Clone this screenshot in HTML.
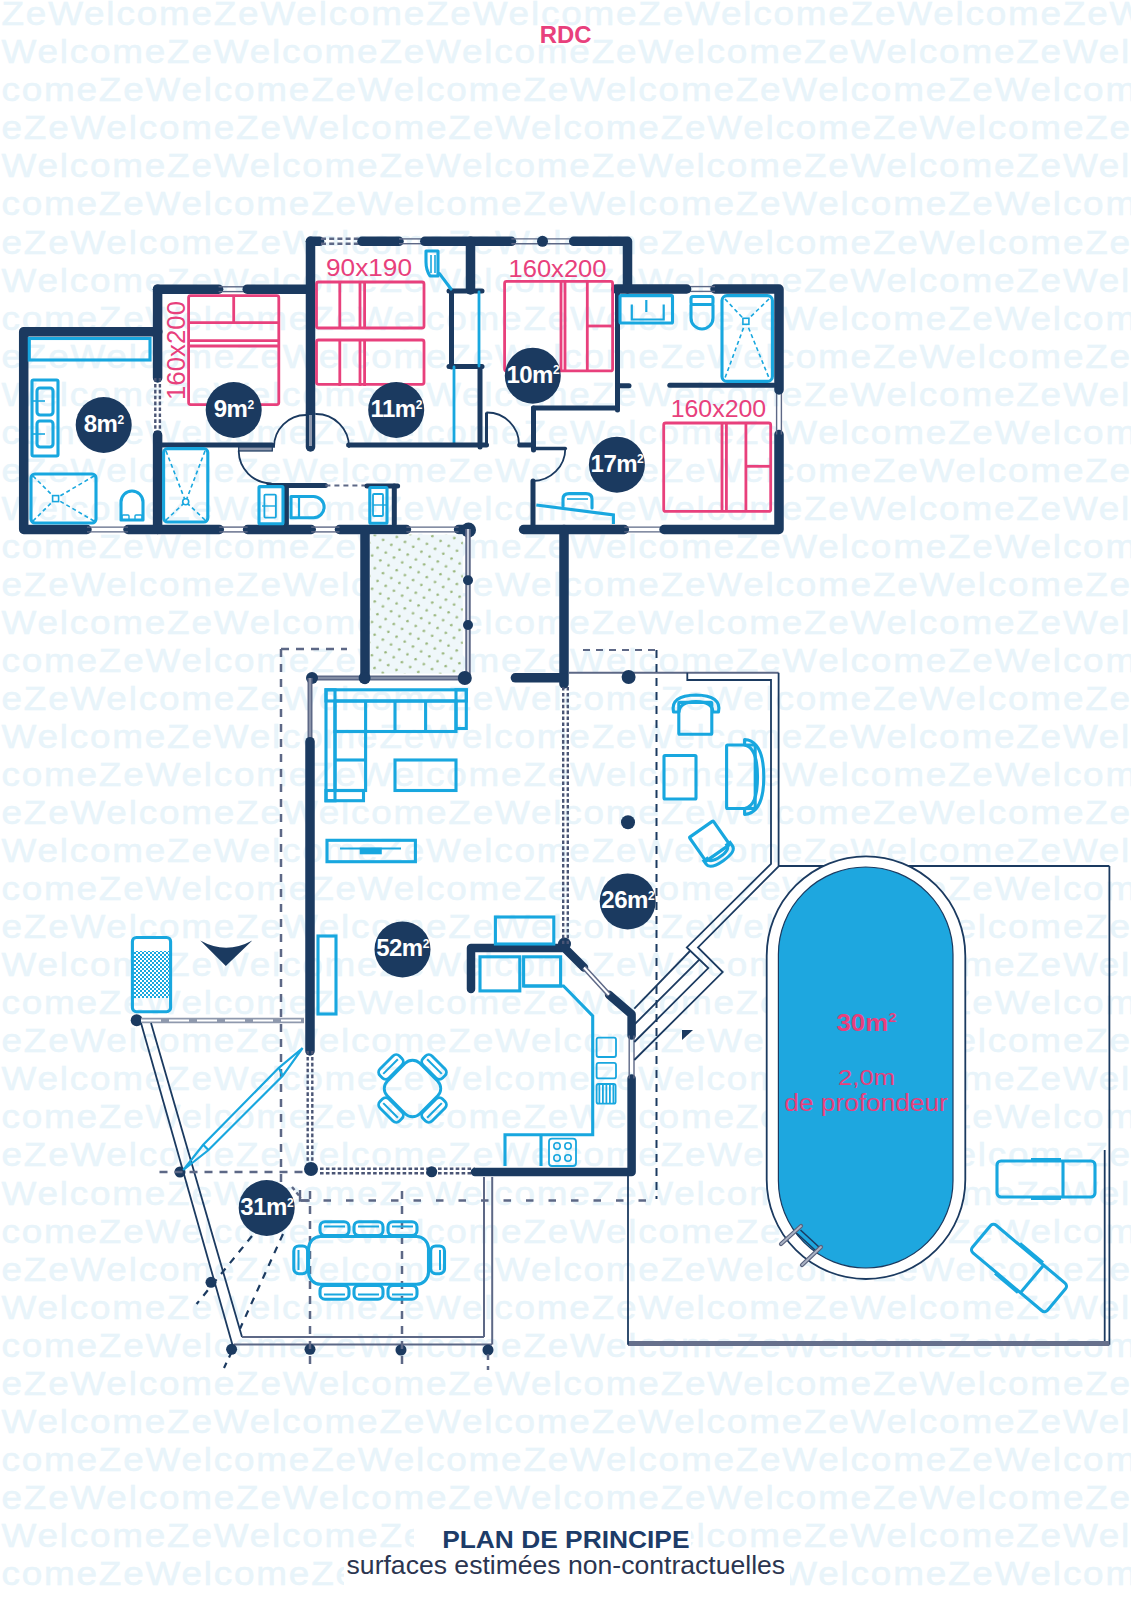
<!DOCTYPE html>
<html><head><meta charset="utf-8"><style>
html,body{margin:0;padding:0;background:#fff;}
svg{display:block;}
.wm text{font-family:"Liberation Sans",sans-serif;font-weight:normal;stroke:#e8f4fa;stroke-width:0.5px;font-size:33.5px;letter-spacing:1.66px;fill:#e8f4fa;}
.bd{font-family:"Liberation Sans",sans-serif;font-weight:bold;fill:#fff;letter-spacing:-0.5px;}
.bed{font-family:"Liberation Sans",sans-serif;fill:#e8407c;}
.pool{font-family:"Liberation Sans",sans-serif;font-weight:bold;fill:#e8407c;}
.poolr{font-family:"Liberation Sans",sans-serif;fill:#e8407c;}
.rdc{font-family:"Liberation Sans",sans-serif;font-weight:bold;font-size:23px;fill:#e8407c;}
.t1{font-family:"Liberation Sans",sans-serif;font-weight:bold;font-size:24.5px;fill:#1d3c68;}
.t2{font-family:"Liberation Sans",sans-serif;font-size:25px;fill:#2b3550;}
</style></head><body>
<svg width="1131" height="1600" viewBox="0 0 1131 1600">
<defs>
<pattern id="dots" width="14" height="13" patternUnits="userSpaceOnUse" patternTransform="rotate(-12)">
<rect x="-1" y="-1" width="16" height="15" fill="#eff7fa"/>
<circle cx="3.5" cy="3.25" r="1.3" fill="#98b57a"/><circle cx="10.5" cy="9.75" r="1.3" fill="#98b57a"/>
</pattern>
<pattern id="chk" width="4" height="4" patternUnits="userSpaceOnUse">
<rect width="4" height="4" fill="#18a7df"/><rect width="2" height="2" fill="#fff"/><rect x="2" y="2" width="2" height="2" fill="#fff"/>
</pattern>
<pattern id="hatch" width="3.5" height="4" patternUnits="userSpaceOnUse">
<rect width="1.8" height="4" fill="#18a7df"/>
</pattern>
</defs>
<g class="wm" transform="scale(1.1,1)">
<text x="1.36" y="25.30">ZeWelcomeZeWelcomeZeWelcomeZeWelcomeZeWelcomeZeW</text>
<text x="1.36" y="63.34">WelcomeZeWelcomeZeWelcomeZeWelcomeZeWelcomeZeWel</text>
<text x="1.36" y="101.38">comeZeWelcomeZeWelcomeZeWelcomeZeWelcomeZeWelcom</text>
<text x="1.36" y="139.42">eZeWelcomeZeWelcomeZeWelcomeZeWelcomeZeWelcomeZe</text>
<text x="1.36" y="177.46">WelcomeZeWelcomeZeWelcomeZeWelcomeZeWelcomeZeWel</text>
<text x="1.36" y="215.50">comeZeWelcomeZeWelcomeZeWelcomeZeWelcomeZeWelcom</text>
<text x="1.36" y="253.54">eZeWelcomeZeWelcomeZeWelcomeZeWelcomeZeWelcomeZe</text>
<text x="1.36" y="291.58">WelcomeZeWelcomeZeWelcomeZeWelcomeZeWelcomeZeWel</text>
<text x="1.36" y="329.62">comeZeWelcomeZeWelcomeZeWelcomeZeWelcomeZeWelcom</text>
<text x="1.36" y="367.66">eZeWelcomeZeWelcomeZeWelcomeZeWelcomeZeWelcomeZe</text>
<text x="1.36" y="405.70">WelcomeZeWelcomeZeWelcomeZeWelcomeZeWelcomeZeWel</text>
<text x="1.36" y="443.74">comeZeWelcomeZeWelcomeZeWelcomeZeWelcomeZeWelcom</text>
<text x="1.36" y="481.78">eZeWelcomeZeWelcomeZeWelcomeZeWelcomeZeWelcomeZe</text>
<text x="1.36" y="519.82">WelcomeZeWelcomeZeWelcomeZeWelcomeZeWelcomeZeWel</text>
<text x="1.36" y="557.86">comeZeWelcomeZeWelcomeZeWelcomeZeWelcomeZeWelcom</text>
<text x="1.36" y="595.90">eZeWelcomeZeWelcomeZeWelcomeZeWelcomeZeWelcomeZe</text>
<text x="1.36" y="633.94">WelcomeZeWelcomeZeWelcomeZeWelcomeZeWelcomeZeWel</text>
<text x="1.36" y="671.98">comeZeWelcomeZeWelcomeZeWelcomeZeWelcomeZeWelcom</text>
<text x="1.36" y="710.02">eZeWelcomeZeWelcomeZeWelcomeZeWelcomeZeWelcomeZe</text>
<text x="1.36" y="748.06">WelcomeZeWelcomeZeWelcomeZeWelcomeZeWelcomeZeWel</text>
<text x="1.36" y="786.10">comeZeWelcomeZeWelcomeZeWelcomeZeWelcomeZeWelcom</text>
<text x="1.36" y="824.14">eZeWelcomeZeWelcomeZeWelcomeZeWelcomeZeWelcomeZe</text>
<text x="1.36" y="862.18">WelcomeZeWelcomeZeWelcomeZeWelcomeZeWelcomeZeWel</text>
<text x="1.36" y="900.22">comeZeWelcomeZeWelcomeZeWelcomeZeWelcomeZeWelcom</text>
<text x="1.36" y="938.26">eZeWelcomeZeWelcomeZeWelcomeZeWelcomeZeWelcomeZe</text>
<text x="1.36" y="976.30">WelcomeZeWelcomeZeWelcomeZeWelcomeZeWelcomeZeWel</text>
<text x="1.36" y="1014.34">comeZeWelcomeZeWelcomeZeWelcomeZeWelcomeZeWelcom</text>
<text x="1.36" y="1052.38">eZeWelcomeZeWelcomeZeWelcomeZeWelcomeZeWelcomeZe</text>
<text x="1.36" y="1090.42">WelcomeZeWelcomeZeWelcomeZeWelcomeZeWelcomeZeWel</text>
<text x="1.36" y="1128.46">comeZeWelcomeZeWelcomeZeWelcomeZeWelcomeZeWelcom</text>
<text x="1.36" y="1166.50">eZeWelcomeZeWelcomeZeWelcomeZeWelcomeZeWelcomeZe</text>
<text x="1.36" y="1204.54">WelcomeZeWelcomeZeWelcomeZeWelcomeZeWelcomeZeWel</text>
<text x="1.36" y="1242.58">comeZeWelcomeZeWelcomeZeWelcomeZeWelcomeZeWelcom</text>
<text x="1.36" y="1280.62">eZeWelcomeZeWelcomeZeWelcomeZeWelcomeZeWelcomeZe</text>
<text x="1.36" y="1318.66">WelcomeZeWelcomeZeWelcomeZeWelcomeZeWelcomeZeWel</text>
<text x="1.36" y="1356.70">comeZeWelcomeZeWelcomeZeWelcomeZeWelcomeZeWelcom</text>
<text x="1.36" y="1394.74">eZeWelcomeZeWelcomeZeWelcomeZeWelcomeZeWelcomeZe</text>
<text x="1.36" y="1432.78">WelcomeZeWelcomeZeWelcomeZeWelcomeZeWelcomeZeWel</text>
<text x="1.36" y="1470.82">comeZeWelcomeZeWelcomeZeWelcomeZeWelcomeZeWelcom</text>
<text x="1.36" y="1508.86">eZeWelcomeZeWelcomeZeWelcomeZeWelcomeZeWelcomeZe</text>
<text x="1.36" y="1546.90">WelcomeZeWelcomeZeWelcomeZeWelcomeZeWelcomeZeWel</text>
<text x="1.36" y="1584.94">comeZeWelcomeZeWelcomeZeWelcomeZeWelcomeZeWelcom</text>
</g>
<path d="M157.8,331.7 H23.7 V529.5 H87" fill="none" stroke="#1b3a60" stroke-width="9.5" stroke-linecap="round" stroke-linejoin="round" />
<line x1="128" y1="529.5" x2="219.3" y2="529.5" stroke="#1b3a60" stroke-width="9.5" stroke-linecap="round" />
<line x1="247.6" y1="529.5" x2="311.2" y2="529.5" stroke="#1b3a60" stroke-width="9.5" stroke-linecap="round" />
<line x1="339.5" y1="529.5" x2="406.4" y2="529.5" stroke="#1b3a60" stroke-width="9.5" stroke-linecap="round" />
<line x1="458.6" y1="529.5" x2="468.5" y2="529.5" stroke="#1b3a60" stroke-width="9.5" stroke-linecap="round" />
<circle cx="468.5" cy="530" r="7.5" fill="#1b3a60"/>
<line x1="87" y1="527.1" x2="128" y2="527.1" stroke="#5d6886" stroke-width="1.4"/>
<line x1="87" y1="531.9" x2="128" y2="531.9" stroke="#5d6886" stroke-width="1.4"/>
<line x1="219.3" y1="527.1" x2="247.6" y2="527.1" stroke="#5d6886" stroke-width="1.4"/>
<line x1="219.3" y1="531.9" x2="247.6" y2="531.9" stroke="#5d6886" stroke-width="1.4"/>
<line x1="311.2" y1="527.1" x2="339.5" y2="527.1" stroke="#5d6886" stroke-width="1.4"/>
<line x1="311.2" y1="531.9" x2="339.5" y2="531.9" stroke="#5d6886" stroke-width="1.4"/>
<line x1="406.4" y1="527.1" x2="458.6" y2="527.1" stroke="#5d6886" stroke-width="1.4"/>
<line x1="406.4" y1="531.9" x2="458.6" y2="531.9" stroke="#5d6886" stroke-width="1.4"/>
<line x1="523.6" y1="529.5" x2="624.3" y2="529.5" stroke="#1b3a60" stroke-width="9.5" stroke-linecap="round" />
<line x1="624.3" y1="527.1" x2="664" y2="527.1" stroke="#5d6886" stroke-width="1.4"/>
<line x1="624.3" y1="531.9" x2="664" y2="531.9" stroke="#5d6886" stroke-width="1.4"/>
<path d="M664,529.5 H779 V434.5" fill="none" stroke="#1b3a60" stroke-width="9.5" stroke-linecap="round" stroke-linejoin="round" />
<line x1="776.6" y1="390" x2="776.6" y2="434.5" stroke="#5d6886" stroke-width="1.4"/>
<line x1="781.4" y1="390" x2="781.4" y2="434.5" stroke="#5d6886" stroke-width="1.4"/>
<path d="M779,390 V289 H715" fill="none" stroke="#1b3a60" stroke-width="9.5" stroke-linecap="round" stroke-linejoin="round" />
<line x1="686.6" y1="286.6" x2="715" y2="286.6" stroke="#5d6886" stroke-width="1.4"/>
<line x1="686.6" y1="291.4" x2="715" y2="291.4" stroke="#5d6886" stroke-width="1.4"/>
<line x1="616" y1="289" x2="686.6" y2="289" stroke="#1b3a60" stroke-width="9.5" stroke-linecap="round" />
<line x1="157.6" y1="289.2" x2="157.6" y2="378" stroke="#1b3a60" stroke-width="9.5" stroke-linecap="round" />
<line x1="155.29999999999998" y1="378" x2="155.29999999999998" y2="435" stroke="#4a5575" stroke-width="2.4" stroke-dasharray="3.6 2.3"/>
<line x1="159.9" y1="378" x2="159.9" y2="435" stroke="#4a5575" stroke-width="2.4" stroke-dasharray="3.6 2.3"/>
<line x1="157.6" y1="435" x2="157.6" y2="529.5" stroke="#1b3a60" stroke-width="9.5" stroke-linecap="round" />
<path d="M157.6,289.2 H218.6" fill="none" stroke="#1b3a60" stroke-width="9.5" stroke-linecap="round" stroke-linejoin="round" />
<line x1="218.6" y1="286.8" x2="247.2" y2="286.8" stroke="#5d6886" stroke-width="1.4"/>
<line x1="218.6" y1="291.59999999999997" x2="247.2" y2="291.59999999999997" stroke="#5d6886" stroke-width="1.4"/>
<line x1="247.2" y1="289.2" x2="310.5" y2="289.2" stroke="#1b3a60" stroke-width="9.5" stroke-linecap="round" />
<line x1="310.5" y1="241.3" x2="319.5" y2="241.3" stroke="#1b3a60" stroke-width="9.5" stroke-linecap="round" />
<line x1="321" y1="238.8" x2="361" y2="238.8" stroke="#5d6886" stroke-width="2.6" stroke-dasharray="5 3.2"/>
<line x1="321" y1="243.8" x2="361" y2="243.8" stroke="#5d6886" stroke-width="2.6" stroke-dasharray="5 3.2"/>
<line x1="362" y1="241.3" x2="399" y2="241.3" stroke="#1b3a60" stroke-width="9.5" stroke-linecap="round" />
<line x1="399" y1="238.9" x2="424.8" y2="238.9" stroke="#5d6886" stroke-width="1.4"/>
<line x1="399" y1="243.70000000000002" x2="424.8" y2="243.70000000000002" stroke="#5d6886" stroke-width="1.4"/>
<line x1="424.8" y1="241.3" x2="511.4" y2="241.3" stroke="#1b3a60" stroke-width="9.5" stroke-linecap="round" />
<line x1="511.4" y1="238.9" x2="573.7" y2="238.9" stroke="#5d6886" stroke-width="1.4"/>
<line x1="511.4" y1="243.70000000000002" x2="573.7" y2="243.70000000000002" stroke="#5d6886" stroke-width="1.4"/>
<circle cx="542.5" cy="241.3" r="5.5" fill="#1b3a60"/>
<path d="M573.7,241.3 H627.5 V289" fill="none" stroke="#1b3a60" stroke-width="9.5" stroke-linecap="round" stroke-linejoin="round" />
<line x1="310.5" y1="241.3" x2="310.5" y2="413" stroke="#1b3a60" stroke-width="9.5" stroke-linecap="round" />
<line x1="310.5" y1="413" x2="310.5" y2="447" stroke="#1b3a60" stroke-width="9.5" stroke-linecap="round" />
<line x1="310.5" y1="415" x2="310.5" y2="446" stroke="#8e98ad" stroke-width="3" stroke-linecap="butt" />
<line x1="470.5" y1="241.3" x2="470.5" y2="290" stroke="#1b3a60" stroke-width="9.5" stroke-linecap="round" />
<line x1="449" y1="291" x2="482" y2="291" stroke="#1b3a60" stroke-width="5" stroke-linecap="round" />
<line x1="451.5" y1="291" x2="451.5" y2="367" stroke="#1b3a60" stroke-width="5" stroke-linecap="round" />
<line x1="480" y1="367" x2="480" y2="447" stroke="#1b3a60" stroke-width="5" stroke-linecap="round" />
<line x1="449" y1="366.5" x2="482" y2="366.5" stroke="#1b3a60" stroke-width="5" stroke-linecap="round" />
<line x1="454" y1="367" x2="454" y2="443" stroke="#18a7df" stroke-width="2.8" stroke-linecap="round" />
<line x1="479" y1="292" x2="479" y2="366" stroke="#18a7df" stroke-width="2.8" stroke-linecap="round" />
<line x1="486.5" y1="412.5" x2="486.5" y2="446" stroke="#1b3a60" stroke-width="3" stroke-linecap="butt" />
<line x1="157.6" y1="445" x2="272" y2="445" stroke="#1b3a60" stroke-width="5" stroke-linecap="round" />
<rect x="238.7" y="447" width="33.6" height="4" rx="0" fill="#8e98ad" stroke="#1b3a60" stroke-width="1.2" />
<path d="M238.7,451 A33,33 0 0 0 271,483.5" fill="none" stroke="#1b3a60" stroke-width="1.8" stroke-linecap="round" stroke-linejoin="round" />
<path d="M274,447 A32,32 0 0 1 306,415" fill="none" stroke="#1b3a60" stroke-width="1.8" stroke-linecap="round" stroke-linejoin="round" />
<path d="M316,414 A33,33 0 0 1 349,447" fill="none" stroke="#1b3a60" stroke-width="1.8" stroke-linecap="round" stroke-linejoin="round" />
<line x1="348.6" y1="445" x2="486.5" y2="445" stroke="#1b3a60" stroke-width="5" stroke-linecap="round" />
<path d="M487,412.5 A32,32 0 0 1 519,444.5" fill="none" stroke="#1b3a60" stroke-width="1.8" stroke-linecap="round" stroke-linejoin="round" />
<line x1="519.7" y1="445" x2="533.5" y2="445" stroke="#1b3a60" stroke-width="5" stroke-linecap="round" />
<line x1="533.5" y1="408" x2="533.5" y2="450" stroke="#1b3a60" stroke-width="5" stroke-linecap="round" />
<line x1="533.5" y1="408" x2="617.5" y2="408" stroke="#1b3a60" stroke-width="5" stroke-linecap="round" />
<line x1="617.5" y1="289" x2="617.5" y2="410" stroke="#1b3a60" stroke-width="5" stroke-linecap="round" />
<line x1="617.5" y1="385.8" x2="629" y2="385.8" stroke="#1b3a60" stroke-width="5" stroke-linecap="round" />
<line x1="669.8" y1="385.3" x2="774" y2="385.3" stroke="#1b3a60" stroke-width="5" stroke-linecap="round" />
<line x1="532.7" y1="448.4" x2="565.3" y2="448.4" stroke="#1b3a60" stroke-width="3.5" stroke-linecap="round" />
<path d="M565.3,448.4 A32.6,32.6 0 0 1 532.7,481" fill="none" stroke="#1b3a60" stroke-width="1.8" stroke-linecap="round" stroke-linejoin="round" />
<line x1="533" y1="481" x2="533" y2="529.5" stroke="#1b3a60" stroke-width="5" stroke-linecap="round" />
<line x1="268.8" y1="485.5" x2="325.4" y2="485.5" stroke="#1b3a60" stroke-width="5" stroke-linecap="round" />
<line x1="325.4" y1="485.5" x2="367" y2="485.5" stroke="#5d6886" stroke-width="2" stroke-dasharray="5 4"/>
<line x1="367" y1="486" x2="397.6" y2="486" stroke="#1b3a60" stroke-width="5" stroke-linecap="round" />
<line x1="286.4" y1="486" x2="286.4" y2="524" stroke="#1b3a60" stroke-width="5" stroke-linecap="round" />
<line x1="394.3" y1="486" x2="394.3" y2="524" stroke="#1b3a60" stroke-width="5" stroke-linecap="round" />
<line x1="564" y1="529.5" x2="564" y2="684" stroke="#1b3a60" stroke-width="9.5" stroke-linecap="round" />
<line x1="515.4" y1="677.8" x2="562" y2="677.8" stroke="#1b3a60" stroke-width="9.5" stroke-linecap="round" />
<rect x="29.3" y="338.5" width="120.7" height="21.5" rx="0" fill="none" stroke="#18a7df" stroke-width="3.1" />
<rect x="32" y="380" width="26" height="76" rx="1.5" fill="none" stroke="#18a7df" stroke-width="3.1" />
<rect x="37" y="388" width="16" height="27" rx="3" fill="none" stroke="#18a7df" stroke-width="3.1" />
<rect x="37" y="421" width="16" height="26" rx="3" fill="none" stroke="#18a7df" stroke-width="3.1" />
<line x1="33" y1="401" x2="45" y2="401" stroke="#18a7df" stroke-width="1.6"/>
<line x1="33" y1="434" x2="45" y2="434" stroke="#18a7df" stroke-width="1.6"/>
<rect x="31" y="474" width="65" height="49" rx="4" fill="none" stroke="#18a7df" stroke-width="3.1" />
<line x1="33" y1="476" x2="55.6" y2="498.6" stroke="#18a7df" stroke-width="1.6" stroke-dasharray="4 3"/>
<line x1="94" y1="476" x2="55.6" y2="498.6" stroke="#18a7df" stroke-width="1.6" stroke-dasharray="4 3"/>
<line x1="33" y1="521" x2="55.6" y2="498.6" stroke="#18a7df" stroke-width="1.6" stroke-dasharray="4 3"/>
<line x1="94" y1="521" x2="55.6" y2="498.6" stroke="#18a7df" stroke-width="1.6" stroke-dasharray="4 3"/>
<rect x="52.6" y="495.6" width="6" height="6" rx="0" fill="#fff" stroke="#18a7df" stroke-width="1.6" />
<path d="M121,520 V502 A11,11 0 0 1 143,502 V520 Z" fill="#fff" stroke="#18a7df" stroke-width="3.1" stroke-linecap="round" stroke-linejoin="round" />
<rect x="122" y="515" width="7" height="5" rx="1" fill="none" stroke="#18a7df" stroke-width="1.4" />
<rect x="135" y="515" width="7" height="5" rx="1" fill="none" stroke="#18a7df" stroke-width="1.4" />
<rect x="163.6" y="448.6" width="44.2" height="73.4" rx="4" fill="none" stroke="#18a7df" stroke-width="3.1" />
<line x1="166" y1="451" x2="185.7" y2="501.7" stroke="#18a7df" stroke-width="1.6" stroke-dasharray="4 3"/>
<line x1="205" y1="451" x2="185.7" y2="501.7" stroke="#18a7df" stroke-width="1.6" stroke-dasharray="4 3"/>
<line x1="166" y1="520" x2="185.7" y2="501.7" stroke="#18a7df" stroke-width="1.6" stroke-dasharray="4 3"/>
<line x1="205" y1="520" x2="185.7" y2="501.7" stroke="#18a7df" stroke-width="1.6" stroke-dasharray="4 3"/>
<circle cx="185.7" cy="501.7" r="3" fill="#fff" stroke="#18a7df" stroke-width="1.6"/>
<rect x="259" y="486.6" width="24" height="37.2" rx="1" fill="none" stroke="#18a7df" stroke-width="3.1" />
<rect x="264.4" y="494.6" width="11.5" height="23" rx="1" fill="none" stroke="#18a7df" stroke-width="1.8" />
<line x1="262" y1="506" x2="276" y2="506" stroke="#18a7df" stroke-width="1.4"/>
<path d="M291,496.5 H313.5 A10.6,10.6 0 0 1 313.5,517.7 H291 Z" fill="none" stroke="#18a7df" stroke-width="3.1" stroke-linecap="round" stroke-linejoin="round" />
<line x1="299" y1="496.5" x2="299" y2="517.7" stroke="#18a7df" stroke-width="2.2"/>
<rect x="369.8" y="487.5" width="17.2" height="35.8" rx="1" fill="none" stroke="#18a7df" stroke-width="3.1" />
<rect x="373" y="494" width="10" height="22" rx="1" fill="none" stroke="#18a7df" stroke-width="1.8" />
<line x1="373" y1="505" x2="387" y2="505" stroke="#18a7df" stroke-width="1.4"/>
<path d="M426,251 H438 V276 H430 Q426,270 426,262 Z" fill="none" stroke="#18a7df" stroke-width="3.1" stroke-linecap="round" stroke-linejoin="round" />
<line x1="431" y1="255" x2="431" y2="273" stroke="#18a7df" stroke-width="1.6"/>
<line x1="435" y1="255" x2="435" y2="273" stroke="#18a7df" stroke-width="1.6"/>
<path d="M439.5,273.6 L451,289" fill="none" stroke="#18a7df" stroke-width="3.1" stroke-linecap="round" stroke-linejoin="round" />
<rect x="620" y="295.6" width="52.5" height="27.4" rx="1" fill="none" stroke="#18a7df" stroke-width="3.1" />
<path d="M631.8,304.5 V319.5 H663.7 V304.5" fill="none" stroke="#18a7df" stroke-width="2.2" stroke-linecap="butt" stroke-linejoin="miter" />
<line x1="646.3" y1="300" x2="646.3" y2="312" stroke="#18a7df" stroke-width="2.2"/>
<rect x="691" y="296.5" width="22" height="8" rx="2" fill="none" stroke="#18a7df" stroke-width="3.1" />
<path d="M691,305 V318 A11,11 0 0 0 713,318 V305" fill="none" stroke="#18a7df" stroke-width="3.1" stroke-linecap="round" stroke-linejoin="round" />
<rect x="722" y="295.6" width="50.4" height="85.8" rx="5" fill="none" stroke="#18a7df" stroke-width="3.1" />
<line x1="725" y1="299" x2="745.9" y2="321.3" stroke="#18a7df" stroke-width="1.6" stroke-dasharray="4 3"/>
<line x1="769" y1="299" x2="745.9" y2="321.3" stroke="#18a7df" stroke-width="1.6" stroke-dasharray="4 3"/>
<line x1="745.9" y1="321.3" x2="725" y2="378" stroke="#18a7df" stroke-width="1.6" stroke-dasharray="4 3"/>
<line x1="745.9" y1="321.3" x2="769" y2="378" stroke="#18a7df" stroke-width="1.6" stroke-dasharray="4 3"/>
<rect x="742.9" y="318.3" width="6" height="6" fill="#fff" stroke="#18a7df" stroke-width="1.6"/>
<path d="M536.3,505 L613.4,514.9 V524" fill="none" stroke="#18a7df" stroke-width="3.1" stroke-linecap="butt" stroke-linejoin="miter" />
<path d="M563,506 V499 Q563,493.6 569,493.6 H586 Q592,493.6 592,499 V508" fill="none" stroke="#18a7df" stroke-width="3.1" stroke-linecap="round" stroke-linejoin="round" />
<line x1="567" y1="499" x2="588" y2="499" stroke="#18a7df" stroke-width="1.6"/>
<rect x="188.6" y="295.6" width="90.2" height="109" rx="2" fill="none" stroke="#e8407c" stroke-width="2.8" />
<line x1="188.6" y1="322.7" x2="278.8" y2="322.7" stroke="#e8407c" stroke-width="2.8"/>
<line x1="233.7" y1="295.6" x2="233.7" y2="322.7" stroke="#e8407c" stroke-width="2.8"/>
<line x1="188.6" y1="340.7" x2="278.8" y2="340.7" stroke="#e8407c" stroke-width="2.8"/>
<line x1="188.6" y1="346" x2="278.8" y2="346" stroke="#e8407c" stroke-width="2.8"/>
<rect x="316.5" y="282" width="107.5" height="46" rx="2" fill="none" stroke="#e8407c" stroke-width="2.8" />
<line x1="339.8" y1="282" x2="339.8" y2="328" stroke="#e8407c" stroke-width="2.8"/>
<line x1="360" y1="282" x2="360" y2="328" stroke="#e8407c" stroke-width="2.8"/>
<line x1="364.6" y1="282" x2="364.6" y2="328" stroke="#e8407c" stroke-width="2.8"/>
<rect x="316.5" y="340" width="107.5" height="44.3" rx="2" fill="none" stroke="#e8407c" stroke-width="2.8" />
<line x1="339.8" y1="340" x2="339.8" y2="386" stroke="#e8407c" stroke-width="2.8"/>
<line x1="360" y1="340" x2="360" y2="386" stroke="#e8407c" stroke-width="2.8"/>
<line x1="364.6" y1="340" x2="364.6" y2="386" stroke="#e8407c" stroke-width="2.8"/>
<rect x="504.6" y="281.4" width="108" height="89.5" rx="2" fill="none" stroke="#e8407c" stroke-width="2.8" />
<line x1="561" y1="281.4" x2="561" y2="370.9" stroke="#e8407c" stroke-width="2.8"/>
<line x1="565" y1="281.4" x2="565" y2="370.9" stroke="#e8407c" stroke-width="2.8"/>
<line x1="587.3" y1="281.4" x2="587.3" y2="370.9" stroke="#e8407c" stroke-width="2.8"/>
<line x1="587.3" y1="326" x2="612.6" y2="326" stroke="#e8407c" stroke-width="2.8"/>
<rect x="663.7" y="423" width="107" height="88.4" rx="2" fill="none" stroke="#e8407c" stroke-width="2.8" />
<line x1="722" y1="423" x2="722" y2="511.4" stroke="#e8407c" stroke-width="2.8"/>
<line x1="726.4" y1="423" x2="726.4" y2="511.4" stroke="#e8407c" stroke-width="2.8"/>
<line x1="745.9" y1="423" x2="745.9" y2="511.4" stroke="#e8407c" stroke-width="2.8"/>
<line x1="745.9" y1="466.3" x2="770.6" y2="466.3" stroke="#e8407c" stroke-width="2.8"/>
<text x="326" y="276" class="bed" font-size="24.5" textLength="86" lengthAdjust="spacingAndGlyphs">90x190</text>
<text x="508.5" y="276.5" class="bed" font-size="24" textLength="98" lengthAdjust="spacingAndGlyphs">160x200</text>
<text x="670.7" y="416.8" class="bed" font-size="23.5" textLength="95.5" lengthAdjust="spacingAndGlyphs">160x200</text>
<text transform="translate(184.8,400) rotate(-90)" class="bed" font-size="25.5" textLength="99" lengthAdjust="spacingAndGlyphs">160x200</text>
<rect x="370.4" y="534.6" width="92.4" height="139" fill="url(#dots)"/>
<line x1="365" y1="529.7" x2="365" y2="679.5" stroke="#1b3a60" stroke-width="9.5" stroke-linecap="round" />
<line x1="468" y1="529" x2="468" y2="678" stroke="#5f6a88" stroke-width="5.5" stroke-linecap="butt" />
<line x1="468" y1="529" x2="468" y2="678" stroke="#c9cedb" stroke-width="2" stroke-linecap="butt" />
<circle cx="468" cy="580.3" r="5" fill="#1b3a60"/>
<circle cx="468" cy="625" r="5" fill="#1b3a60"/>
<line x1="309" y1="678" x2="468.7" y2="678" stroke="#5d6886" stroke-width="5" stroke-linecap="butt" />
<line x1="309" y1="678" x2="468.7" y2="678" stroke="#aab1c2" stroke-width="1.2"/>
<circle cx="312" cy="678" r="6" fill="#1b3a60"/>
<circle cx="364.6" cy="678" r="6" fill="#1b3a60"/>
<circle cx="464.8" cy="678" r="7" fill="#1b3a60"/>
<line x1="310" y1="678" x2="310" y2="741.7" stroke="#5d6886" stroke-width="5" stroke-linecap="butt" />
<line x1="310" y1="678" x2="310" y2="741.7" stroke="#aab1c2" stroke-width="1.2"/>
<line x1="310" y1="741.7" x2="310" y2="1051" stroke="#1b3a60" stroke-width="9.5" stroke-linecap="round" />
<line x1="307.7" y1="1051" x2="307.7" y2="1165" stroke="#4a5575" stroke-width="2.4" stroke-dasharray="3.6 2.3"/>
<line x1="312.3" y1="1051" x2="312.3" y2="1165" stroke="#4a5575" stroke-width="2.4" stroke-dasharray="3.6 2.3"/>
<circle cx="311" cy="1169" r="7" fill="#1b3a60"/>
<line x1="320" y1="1168.7" x2="475" y2="1168.7" stroke="#4a5575" stroke-width="2.4" stroke-dasharray="3.6 2.3"/>
<line x1="320" y1="1173.3" x2="475" y2="1173.3" stroke="#4a5575" stroke-width="2.4" stroke-dasharray="3.6 2.3"/>
<circle cx="431.7" cy="1171.8" r="5.5" fill="#1b3a60"/>
<path d="M471,989 V948 H564.5 L584,967.5" fill="none" stroke="#1b3a60" stroke-width="8.5" stroke-linecap="round" stroke-linejoin="round" />
<path d="M609,994.8 L631.6,1014.2 V1035.6" fill="none" stroke="#1b3a60" stroke-width="8.5" stroke-linecap="round" stroke-linejoin="round" />
<path d="M631.6,1078.4 V1172 H475" fill="none" stroke="#1b3a60" stroke-width="8.5" stroke-linecap="round" stroke-linejoin="round" />
<line x1="584" y1="967.5" x2="609" y2="994.8" stroke="#5d6886" stroke-width="5"/>
<line x1="584" y1="967.5" x2="609" y2="994.8" stroke="#fff" stroke-width="2"/>
<line x1="629.2" y1="1035.6" x2="629.2" y2="1078.4" stroke="#5d6886" stroke-width="1.4"/>
<line x1="634.0" y1="1035.6" x2="634.0" y2="1078.4" stroke="#5d6886" stroke-width="1.4"/>
<circle cx="564.5" cy="944" r="6.5" fill="#1b3a60"/>
<line x1="563.2" y1="687" x2="563.2" y2="944" stroke="#4a5575" stroke-width="2.4" stroke-dasharray="3.6 2.3"/>
<line x1="567.8" y1="687" x2="567.8" y2="944" stroke="#4a5575" stroke-width="2.4" stroke-dasharray="3.6 2.3"/>
<line x1="569" y1="672.8" x2="778.6" y2="672.8" stroke="#5d6886" stroke-width="2"/>
<path d="M687.3,672.8 V680 H771 V863.9 L686.8,947.4 L708.3,968.1 L634.3,1042" fill="none" stroke="#1b3a60" stroke-width="1.8" stroke-linecap="butt" stroke-linejoin="miter" />
<path d="M778.6,672.8 V866.3 L698,947.4 L722.7,972.1 L634.3,1060" fill="none" stroke="#1b3a60" stroke-width="1.8" stroke-linecap="butt" stroke-linejoin="miter" />
<line x1="778.4" y1="866" x2="1109.4" y2="866" stroke="#1b3a60" stroke-width="1.8"/>
<line x1="690.5" y1="950.5" x2="634.3" y2="1008.7" stroke="#1b3a60" stroke-width="1.8"/>
<line x1="699.6" y1="959.3" x2="634.3" y2="1024.6" stroke="#1b3a60" stroke-width="1.8"/>
<circle cx="628.6" cy="677" r="7" fill="#1b3a60"/>
<circle cx="628" cy="822.3" r="7" fill="#1b3a60"/>
<line x1="583" y1="650" x2="657" y2="650" stroke="#5d6886" stroke-width="2.2" stroke-dasharray="7 6"/>
<line x1="656.5" y1="650" x2="656.5" y2="1199" stroke="#1b3a60" stroke-width="2" stroke-dasharray="8 6"/>
<path d="M682,1040 L693,1030 L682,1030 Z" fill="#1b3a60"/>
<line x1="1109.4" y1="866" x2="1109.4" y2="1344.7" stroke="#1b3a60" stroke-width="1.8"/>
<line x1="1104.7" y1="1150" x2="1104.7" y2="1344.7" stroke="#1b3a60" stroke-width="1.8"/>
<line x1="628" y1="1343.5" x2="1109.4" y2="1343.5" stroke="#66708c" stroke-width="5" stroke-linecap="butt" />
<line x1="628" y1="1168.6" x2="628" y2="1344.7" stroke="#1b3a60" stroke-width="1.8"/>
<rect x="766.7" y="856.4" width="198.6" height="422.6" rx="99.3" fill="#fff" stroke="#1b3a60" stroke-width="1.8"/>
<rect x="778.4" y="867" width="174.6" height="401" rx="87.3" fill="#1ea7df" stroke="#1b3a60" stroke-width="1.2"/>
<text x="836.4" y="1031" class="pool" font-size="23.5" textLength="60" lengthAdjust="spacingAndGlyphs">30m<tspan font-size="13" dy="-9">2</tspan></text>
<text x="838" y="1084.8" class="poolr" font-size="21.5" textLength="57" lengthAdjust="spacingAndGlyphs">2,0m</text>
<text x="784.3" y="1110.9" class="poolr" font-size="23.5" textLength="163.5" lengthAdjust="spacingAndGlyphs">de profondeur</text>
<line x1="797" y1="1233.5" x2="816" y2="1251" stroke="#1b3a60" stroke-width="1.5"/>
<line x1="800.5" y1="1230" x2="819.5" y2="1247.5" stroke="#1b3a60" stroke-width="1.5"/>
<line x1="781" y1="1244" x2="801" y2="1226" stroke="#59627d" stroke-width="4.2" stroke-linecap="round"/>
<line x1="781" y1="1244" x2="801" y2="1226" stroke="#aab2c4" stroke-width="1.8" stroke-linecap="round"/>
<line x1="802" y1="1265" x2="821" y2="1247" stroke="#59627d" stroke-width="4.2" stroke-linecap="round"/>
<line x1="802" y1="1265" x2="821" y2="1247" stroke="#aab2c4" stroke-width="1.8" stroke-linecap="round"/>
<circle cx="136.7" cy="1020.2" r="6" fill="#1b3a60"/>
<line x1="141" y1="1020.5" x2="304" y2="1020.5" stroke="#8f99ad" stroke-width="5.5" stroke-linecap="butt" />
<line x1="141" y1="1020.5" x2="304" y2="1020.5" stroke="#fff" stroke-width="2" stroke-dasharray="20 8"/>
<line x1="141" y1="1023" x2="233.7" y2="1349.3" stroke="#1b3a60" stroke-width="1.8"/>
<line x1="151" y1="1023" x2="242" y2="1337" stroke="#1b3a60" stroke-width="1.8"/>
<line x1="242" y1="1337" x2="484" y2="1337" stroke="#5d6886" stroke-width="2.2"/>
<line x1="233.7" y1="1344.5" x2="492" y2="1344.5" stroke="#5d6886" stroke-width="2.2"/>
<line x1="484" y1="1177" x2="484" y2="1337" stroke="#5d6886" stroke-width="2"/>
<line x1="492.2" y1="1177" x2="492.2" y2="1344.5" stroke="#5d6886" stroke-width="2"/>
<circle cx="180" cy="1172" r="5.5" fill="#1b3a60"/>
<circle cx="211" cy="1282.3" r="5.5" fill="#1b3a60"/>
<circle cx="231.6" cy="1349.3" r="5.5" fill="#1b3a60"/>
<circle cx="310" cy="1349.3" r="5.5" fill="#1b3a60"/>
<circle cx="401" cy="1350" r="5.5" fill="#1b3a60"/>
<circle cx="488" cy="1350" r="5.5" fill="#1b3a60"/>
<line x1="159.5" y1="1172" x2="304" y2="1172" stroke="#5d6886" stroke-width="2.5" stroke-dasharray="8 7"/>
<line x1="281" y1="649" x2="281" y2="1182" stroke="#5d6886" stroke-width="2.5" stroke-dasharray="8 7"/>
<line x1="281" y1="649" x2="347" y2="649" stroke="#5d6886" stroke-width="2.5" stroke-dasharray="8 7"/>
<line x1="310" y1="1191" x2="310" y2="1370" stroke="#5d6886" stroke-width="2.5" stroke-dasharray="8 7"/>
<line x1="402" y1="1191" x2="402" y2="1370" stroke="#5d6886" stroke-width="2.5" stroke-dasharray="8 7"/>
<line x1="301" y1="1200.5" x2="657" y2="1200.5" stroke="#5d6886" stroke-width="2.6" stroke-dasharray="7.5 15"/>
<line x1="252" y1="1236" x2="196.6" y2="1304" stroke="#1b3a60" stroke-width="2.2" stroke-dasharray="7 7"/>
<line x1="231.6" y1="1352" x2="224" y2="1368" stroke="#1b3a60" stroke-width="2.2" stroke-dasharray="6 6"/>
<line x1="488" y1="1354" x2="488" y2="1370" stroke="#5d6886" stroke-width="2.5" stroke-dasharray="6 6"/>
<line x1="292" y1="1187" x2="301" y2="1198" stroke="#5d6886" stroke-width="2.4" stroke-dasharray="4 3"/>
<path d="M300,1190 V1200.5 H309.7" fill="none" stroke="#5d6886" stroke-width="2.4" stroke-linecap="butt" stroke-linejoin="miter" />
<line x1="283" y1="1234" x2="240" y2="1328.7" stroke="#1b3a60" stroke-width="2.2" stroke-dasharray="7 7"/>
<path d="M302.6,1048 L278.8,1067.8 L203.2,1144.8 L183.3,1170 L208.5,1150 L282.7,1075.8 Z" fill="none" stroke="#18a7df" stroke-width="2.2" stroke-linecap="round" stroke-linejoin="miter" />
<line x1="278.8" y1="1067.8" x2="282.7" y2="1075.8" stroke="#18a7df" stroke-width="2.2"/>
<line x1="203.2" y1="1144.8" x2="208.5" y2="1150" stroke="#18a7df" stroke-width="2.2"/>
<path d="M200.3,940.6 Q226,955 252.3,940.6 L225.8,966 Z" fill="#1b3a60"/>
<rect x="132.4" y="937.5" width="38.2" height="74.2" rx="4" fill="none" stroke="#18a7df" stroke-width="3.1" />
<rect x="134" y="951" width="35" height="47" fill="url(#chk)"/>
<rect x="326" y="689.8" width="140.3" height="11.2" rx="0" fill="none" stroke="#18a7df" stroke-width="3.1" />
<rect x="456" y="689.8" width="10.3" height="38.7" rx="0" fill="none" stroke="#18a7df" stroke-width="3.1" />
<rect x="335" y="701" width="121" height="30.5" rx="0" fill="none" stroke="#18a7df" stroke-width="3.1" />
<line x1="365.6" y1="701" x2="365.6" y2="731.5" stroke="#18a7df" stroke-width="3.1"/>
<line x1="395" y1="701" x2="395" y2="731.5" stroke="#18a7df" stroke-width="3.1"/>
<line x1="425.6" y1="701" x2="425.6" y2="731.5" stroke="#18a7df" stroke-width="3.1"/>
<rect x="326" y="689.8" width="9" height="111" rx="0" fill="none" stroke="#18a7df" stroke-width="3.1" />
<rect x="335" y="731.5" width="30.6" height="59" rx="0" fill="none" stroke="#18a7df" stroke-width="3.1" />
<line x1="335" y1="760" x2="365.6" y2="760" stroke="#18a7df" stroke-width="3.1"/>
<rect x="326" y="790.5" width="37.5" height="10.2" rx="0" fill="none" stroke="#18a7df" stroke-width="3.1" />
<rect x="395" y="760" width="61" height="30.5" rx="0" fill="none" stroke="#18a7df" stroke-width="3.1" />
<rect x="327" y="840.3" width="88.4" height="21.4" rx="0" fill="none" stroke="#18a7df" stroke-width="3.1" />
<line x1="340" y1="848.5" x2="401" y2="848.5" stroke="#18a7df" stroke-width="1.8"/>
<rect x="360.5" y="848.5" width="20.5" height="5" rx="0" fill="#18a7df" stroke="#18a7df" stroke-width="1.6" />
<rect x="318" y="936" width="18" height="78" rx="0" fill="none" stroke="#18a7df" stroke-width="3.1" />
<g transform="translate(412.5,1088.5) rotate(45) scale(1.15)"><rect x="-20" y="-20" width="40" height="40" rx="9" fill="none" stroke="#18a7df" stroke-width="2.5"/><rect x="-12" y="-32" width="24" height="11" rx="4" fill="none" stroke="#18a7df" stroke-width="2.5"/><line x1="-9" y1="-27" x2="9" y2="-27" stroke="#18a7df" stroke-width="1.8"/><rect x="-12" y="21" width="24" height="11" rx="4" fill="none" stroke="#18a7df" stroke-width="2.5"/><line x1="-9" y1="27" x2="9" y2="27" stroke="#18a7df" stroke-width="1.8"/><rect x="-32" y="-12" width="11" height="24" rx="4" fill="none" stroke="#18a7df" stroke-width="2.5"/><line x1="-27" y1="-9" x2="-27" y2="9" stroke="#18a7df" stroke-width="1.8"/><rect x="21" y="-12" width="11" height="24" rx="4" fill="none" stroke="#18a7df" stroke-width="2.5"/><line x1="27" y1="-9" x2="27" y2="9" stroke="#18a7df" stroke-width="1.8"/></g>
<rect x="308.6" y="1236.5" width="119.9" height="47.8" rx="12" fill="none" stroke="#18a7df" stroke-width="3.1" />
<rect x="320" y="1221.7" width="29" height="13.8" rx="5" fill="none" stroke="#18a7df" stroke-width="3.1" />
<line x1="324" y1="1226.5" x2="345" y2="1226.5" stroke="#18a7df" stroke-width="2"/>
<rect x="320" y="1285.4" width="29" height="13.8" rx="5" fill="none" stroke="#18a7df" stroke-width="3.1" />
<line x1="324" y1="1294.5" x2="345" y2="1294.5" stroke="#18a7df" stroke-width="2"/>
<rect x="354" y="1221.7" width="29" height="13.8" rx="5" fill="none" stroke="#18a7df" stroke-width="3.1" />
<line x1="358" y1="1226.5" x2="379" y2="1226.5" stroke="#18a7df" stroke-width="2"/>
<rect x="354" y="1285.4" width="29" height="13.8" rx="5" fill="none" stroke="#18a7df" stroke-width="3.1" />
<line x1="358" y1="1294.5" x2="379" y2="1294.5" stroke="#18a7df" stroke-width="2"/>
<rect x="388" y="1221.7" width="29" height="13.8" rx="5" fill="none" stroke="#18a7df" stroke-width="3.1" />
<line x1="392" y1="1226.5" x2="413" y2="1226.5" stroke="#18a7df" stroke-width="2"/>
<rect x="388" y="1285.4" width="29" height="13.8" rx="5" fill="none" stroke="#18a7df" stroke-width="3.1" />
<line x1="392" y1="1294.5" x2="413" y2="1294.5" stroke="#18a7df" stroke-width="2"/>
<rect x="293.8" y="1246" width="13.8" height="27.7" rx="5" fill="none" stroke="#18a7df" stroke-width="3.1" />
<line x1="298.5" y1="1250" x2="298.5" y2="1270" stroke="#18a7df" stroke-width="2"/>
<rect x="430.7" y="1246" width="13.8" height="27.7" rx="5" fill="none" stroke="#18a7df" stroke-width="3.1" />
<line x1="440" y1="1250" x2="440" y2="1270" stroke="#18a7df" stroke-width="2"/>
<rect x="495.4" y="917" width="58.4" height="27" rx="0" fill="none" stroke="#18a7df" stroke-width="3.1" />
<rect x="480" y="956.8" width="39.8" height="34.1" rx="0" fill="none" stroke="#18a7df" stroke-width="3.1" />
<rect x="523.6" y="956.8" width="37" height="29.2" rx="0" fill="none" stroke="#18a7df" stroke-width="3.1" />
<path d="M523.6,986 H563.5 L592.7,1016 V1134.8 H505 V1166" fill="none" stroke="#18a7df" stroke-width="3.1" stroke-linecap="butt" stroke-linejoin="miter" />
<line x1="541" y1="1134.8" x2="541" y2="1166" stroke="#18a7df" stroke-width="3.1"/>
<rect x="596.6" y="1037.6" width="19.4" height="19.4" rx="2" fill="none" stroke="#18a7df" stroke-width="1.8" />
<rect x="596.6" y="1062.8" width="19.4" height="15.6" rx="2" fill="none" stroke="#18a7df" stroke-width="1.8" />
<rect x="596.6" y="1084" width="19" height="19.7" rx="2" fill="url(#hatch)" stroke="#18a7df" stroke-width="1.8" />
<rect x="549" y="1138.7" width="27" height="27.3" rx="3" fill="none" stroke="#18a7df" stroke-width="1.8" />
<circle cx="557" cy="1146" r="3.2" fill="none" stroke="#18a7df" stroke-width="1.6"/>
<circle cx="568" cy="1146" r="3.2" fill="none" stroke="#18a7df" stroke-width="1.6"/>
<circle cx="557" cy="1158" r="3.2" fill="none" stroke="#18a7df" stroke-width="1.6"/>
<circle cx="568" cy="1158" r="3.2" fill="none" stroke="#18a7df" stroke-width="1.6"/>
<path d="M679,712 H673.5 Q670,695.5 696,695 Q722,695.5 718.5,712 H713 Q712.5,702 696,701.5 Q679.5,702 679,712 Z" fill="none" stroke="#18a7df" stroke-width="3.1" stroke-linecap="round" stroke-linejoin="round" />
<rect x="678.8" y="702.4" width="33" height="31.9" rx="1" fill="none" stroke="#18a7df" stroke-width="3.1" />
<rect x="664" y="755.5" width="32" height="43.5" rx="1" fill="none" stroke="#18a7df" stroke-width="3.1" />
<rect x="726.6" y="745" width="28.6" height="63.5" rx="1" fill="none" stroke="#18a7df" stroke-width="3.1" />
<path d="M744.6,739.5 Q763.8,741 763.8,777 Q763.8,813 744.6,814.5 V808.5 Q757.5,806.5 757.5,777 Q757.5,747.5 744.6,745 Z" fill="none" stroke="#18a7df" stroke-width="3.1" stroke-linecap="round" stroke-linejoin="round" />
<g transform="translate(709.5,841) rotate(-35)"><rect x="-14.5" y="-14.5" width="29" height="29" rx="1" fill="none" stroke="#18a7df" stroke-width="3.1"/><path d="M-16,13 V17 Q-16,24 0,24 Q16,24 16,17 V13 H12 Q12,19 0,19 Q-12,19 -12,13 Z" fill="none" stroke="#18a7df" stroke-width="3.1"/></g>
<g transform="translate(1046,1179)"><rect x="-49" y="-18" width="98" height="36" rx="4" fill="none" stroke="#18a7df" stroke-width="3.1"/><line x1="17" y1="-18" x2="17" y2="18" stroke="#18a7df" stroke-width="3.1"/><rect x="-15" y="-21" width="30" height="3" fill="#18a7df"/><rect x="-15" y="18" width="30" height="3" fill="#18a7df"/></g>
<g transform="translate(1019,1268) rotate(40)"><rect x="-49" y="-18" width="98" height="36" rx="4" fill="none" stroke="#18a7df" stroke-width="3.1"/><line x1="17" y1="-18" x2="17" y2="18" stroke="#18a7df" stroke-width="3.1"/><rect x="-15" y="-21" width="30" height="3" fill="#18a7df"/><rect x="-15" y="18" width="30" height="3" fill="#18a7df"/></g>
<circle cx="103.7" cy="425" r="28" fill="#1b3a60"/>
<text x="103.7" y="432" text-anchor="middle" class="bd" font-size="24">8m<tspan font-size="12.0" dy="-8.5">2</tspan></text>
<circle cx="233.7" cy="410" r="28" fill="#1b3a60"/>
<text x="233.7" y="417" text-anchor="middle" class="bd" font-size="24">9m<tspan font-size="12.0" dy="-8.5">2</tspan></text>
<circle cx="396.2" cy="410" r="28" fill="#1b3a60"/>
<text x="396.2" y="417" text-anchor="middle" class="bd" font-size="24">11m<tspan font-size="12.0" dy="-8.5">2</tspan></text>
<circle cx="532.8" cy="375.7" r="28" fill="#1b3a60"/>
<text x="532.8" y="382.7" text-anchor="middle" class="bd" font-size="24">10m<tspan font-size="12.0" dy="-8.5">2</tspan></text>
<circle cx="616.9" cy="464.7" r="28" fill="#1b3a60"/>
<text x="616.9" y="471.7" text-anchor="middle" class="bd" font-size="24">17m<tspan font-size="12.0" dy="-8.5">2</tspan></text>
<circle cx="402.5" cy="949.4" r="28" fill="#1b3a60"/>
<text x="402.5" y="956.4" text-anchor="middle" class="bd" font-size="24">52m<tspan font-size="12.0" dy="-8.5">2</tspan></text>
<circle cx="627.7" cy="901.4" r="28" fill="#1b3a60"/>
<text x="627.7" y="908.4" text-anchor="middle" class="bd" font-size="24">26m<tspan font-size="12.0" dy="-8.5">2</tspan></text>
<circle cx="266.7" cy="1208" r="28" fill="#1b3a60"/>
<text x="266.7" y="1215" text-anchor="middle" class="bd" font-size="24">31m<tspan font-size="12.0" dy="-8.5">2</tspan></text>
<rect x="414" y="1521" width="277" height="33" fill="#fff"/>
<rect x="344" y="1554" width="446" height="34" fill="#fff"/>
<text x="539.7" y="43.4" class="rdc" textLength="51.7" lengthAdjust="spacingAndGlyphs">RDC</text>
<text x="442.2" y="1548.2" class="t1" textLength="247.3" lengthAdjust="spacingAndGlyphs">PLAN DE PRINCIPE</text>
<text x="346.6" y="1574.4" class="t2" textLength="438.5" lengthAdjust="spacingAndGlyphs">surfaces estimées non-contractuelles</text>
</svg>
</body></html>
